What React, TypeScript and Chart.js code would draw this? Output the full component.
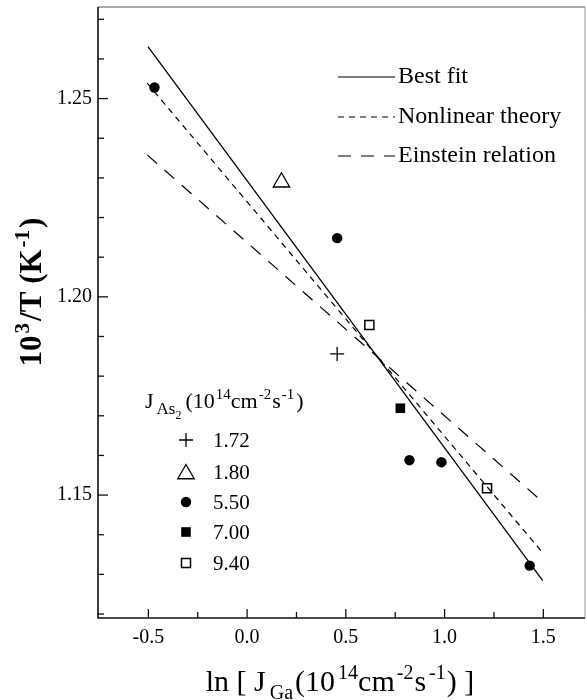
import React, { useEffect, useRef } from 'react';
import { Chart, registerables } from 'chart.js';

Chart.register(...registerables);

// ---- axis ranges and ticks ----
const X_RANGE = [-0.755, 1.711];
const Y_RANGE = [1.119, 1.2731];
const X_TICKS = [-0.5, -0.25, 0, 0.25, 0.5, 0.75, 1.0, 1.25, 1.5];
const Y_TICKS = [1.12, 1.13, 1.14, 1.15, 1.16, 1.17, 1.18, 1.19, 1.2, 1.21, 1.22, 1.23, 1.24, 1.25, 1.26, 1.27];
const X_MAJOR = [-0.5, 0, 0.5, 1.0, 1.5];
const Y_MAJOR = [1.15, 1.2, 1.25];

// ---- data: J_As2 series ----
const J_AS2_LABELS = ['1.72', '1.80', '5.50', '7.00', '9.40'];
const S172_X = [0.456];
const S172_Y = [1.1856];
const S180_X = [0.174];
const S180_Y = [1.2289];
const S550_X = [-0.469, 0.456, 0.822, 0.984, 1.431];
const S550_Y = [1.2528, 1.2148, 1.1588, 1.1583, 1.1322];
const S700_X = [0.776];
const S700_Y = [1.1719];
const S940_X = [0.619, 1.215];
const S940_Y = [1.1929, 1.1517];

// ---- fitted / theory lines ----
const LINE_LABELS = ['Best fit', 'Nonlinear theory', 'Einstein relation'];
const BEST_FIT_X = [-0.502, 1.497];
const BEST_FIT_Y = [1.2631, 1.1284];
const NONLIN_X = [-0.506, 1.489];
const NONLIN_Y = [1.2539, 1.1359];
const EINSTEIN_X = [-0.506, 1.489];
const EINSTEIN_Y = [1.2358, 1.1486];

const FONT = "'Liberation Serif', 'Times New Roman', serif";
const DASH_NONLIN = [6, 5];
const DASH_EINSTEIN = [13, 10];

const pts = (xs: number[], ys: number[]) => xs.map((x, i) => ({ x, y: ys[i] }));
const isMult = (v: number, m: number) => Math.abs(v / m - Math.round(v / m)) < 1e-6;

type Seg = { t: string; size: number; dy: number; gap?: number };

function richWidth(ctx: CanvasRenderingContext2D, segs: Seg[], bold: boolean) {
  let w = 0;
  for (const s of segs) {
    ctx.font = `${bold ? 'bold ' : ''}${s.size}px ${FONT}`;
    w += (s.gap || 0) + ctx.measureText(s.t).width;
  }
  return w;
}

function drawRich(ctx: CanvasRenderingContext2D, segs: Seg[], x: number, y: number, bold: boolean) {
  let cx = x;
  ctx.textAlign = 'left';
  ctx.textBaseline = 'alphabetic';
  for (const s of segs) {
    cx += s.gap || 0;
    ctx.font = `${bold ? 'bold ' : ''}${s.size}px ${FONT}`;
    ctx.fillText(s.t, cx, y + s.dy);
    cx += ctx.measureText(s.t).width;
  }
}

function drawMarker(ctx: CanvasRenderingContext2D, kind: string, x: number, y: number) {
  ctx.save();
  ctx.strokeStyle = '#000';
  ctx.fillStyle = '#000';
  ctx.lineWidth = 1.3;
  ctx.beginPath();
  if (kind === 'plus') {
    ctx.moveTo(x - 7, y); ctx.lineTo(x + 7, y);
    ctx.moveTo(x, y - 7); ctx.lineTo(x, y + 7);
    ctx.stroke();
  } else if (kind === 'tri') {
    const r = 9.5;
    ctx.moveTo(x, y - r);
    ctx.lineTo(x + r * Math.sin(2 * Math.PI / 3), y + r / 2);
    ctx.lineTo(x - r * Math.sin(2 * Math.PI / 3), y + r / 2);
    ctx.closePath();
    ctx.stroke();
  } else if (kind === 'circle') {
    ctx.arc(x, y, 5.2, 0, Math.PI * 2);
    ctx.fill();
  } else if (kind === 'fsq') {
    ctx.rect(x - 4.8, y - 4.8, 9.6, 9.6);
    ctx.fill();
  } else if (kind === 'osq') {
    ctx.lineWidth = 1.5;
    ctx.rect(x - 4.5, y - 4.5, 9, 9);
    ctx.stroke();
  }
  ctx.restore();
}

const decorPlugin = {
  id: 'decor',
  afterDraw(chart: any) {
    const ctx: CanvasRenderingContext2D = chart.ctx;
    const { left, right, top, bottom } = chart.chartArea;
    const xs = chart.scales.x;
    const ys = chart.scales.y;
    ctx.save();
    // frame
    ctx.lineWidth = 1;
    ctx.strokeStyle = '#555';
    ctx.beginPath(); ctx.moveTo(left, top); ctx.lineTo(right, top); ctx.stroke();
    ctx.strokeStyle = '#999';
    ctx.beginPath(); ctx.moveTo(right, top); ctx.lineTo(right, bottom); ctx.stroke();
    ctx.strokeStyle = '#111';
    ctx.lineWidth = 1.6;
    ctx.beginPath(); ctx.moveTo(left, top); ctx.lineTo(left, bottom); ctx.lineTo(right, bottom); ctx.stroke();

    // inward tick marks
    ctx.lineWidth = 1.3;
    ctx.strokeStyle = '#111';
    for (const v of X_TICKS) {
      const px = xs.getPixelForValue(v);
      const len = X_MAJOR.some((m) => Math.abs(m - v) < 1e-9) ? 9 : 6;
      ctx.beginPath(); ctx.moveTo(px, bottom); ctx.lineTo(px, bottom - len); ctx.stroke();
    }
    for (const v of Y_TICKS) {
      const py = ys.getPixelForValue(v);
      const len = Y_MAJOR.some((m) => Math.abs(m - v) < 1e-9) ? 10 : 6;
      ctx.beginPath(); ctx.moveTo(left, py); ctx.lineTo(left + len, py); ctx.stroke();
    }

    ctx.fillStyle = '#000';
    // line legend
    const lineDashes = [[], DASH_NONLIN, DASH_EINSTEIN];
    const lineYs = [77, 117, 156];
    LINE_LABELS.forEach((lab, i) => {
      ctx.save();
      ctx.setLineDash(lineDashes[i]);
      ctx.lineWidth = 1.2;
      ctx.strokeStyle = '#000';
      ctx.beginPath(); ctx.moveTo(338, lineYs[i]); ctx.lineTo(395, lineYs[i]); ctx.stroke();
      ctx.restore();
      ctx.font = `24px ${FONT}`;
      ctx.textAlign = 'left';
      ctx.textBaseline = 'alphabetic';
      ctx.fillText(lab, 398, lineYs[i] + 6);
    });

    // marker legend header: J_As2 (10^14 cm^-2 s^-1)
    const header: Seg[] = [
      { t: 'J', size: 22, dy: 0 },
      { t: 'As', size: 17, dy: 6, gap: 3 },
      { t: '2', size: 12, dy: 11 },
      { t: '(10', size: 22, dy: 0, gap: 4 },
      { t: '14', size: 15, dy: -9, gap: 1 },
      { t: 'cm', size: 22, dy: 0 },
      { t: '-2', size: 15, dy: -9, gap: 1 },
      { t: 's', size: 22, dy: 0, gap: 1 },
      { t: '-1', size: 15, dy: -9, gap: 1 },
      { t: ')', size: 22, dy: 0, gap: 2 },
    ];
    drawRich(ctx, header, 145, 408, false);

    const kinds = ['plus', 'tri', 'circle', 'fsq', 'osq'];
    const rowYs = [440, 472, 502, 532, 563];
    J_AS2_LABELS.forEach((lab, i) => {
      drawMarker(ctx, kinds[i], 186, rowYs[i] + (kinds[i] === 'tri' ? 2 : 0));
      ctx.fillStyle = '#000';
      ctx.font = `21px ${FONT}`;
      ctx.textAlign = 'left';
      ctx.textBaseline = 'middle';
      ctx.fillText(lab, 213, rowYs[i] + 1);
    });

    // x-axis title
    const xt: Seg[] = [
      { t: 'ln [ J', size: 30, dy: 0 },
      { t: 'Ga', size: 20, dy: 8, gap: 4 },
      { t: '(10', size: 30, dy: 0, gap: 2 },
      { t: '14', size: 20, dy: -12, gap: 3 },
      { t: 'cm', size: 30, dy: 0 },
      { t: '-2', size: 20, dy: -12, gap: 2 },
      { t: 's', size: 30, dy: 0, gap: 1 },
      { t: '-1', size: 20, dy: -12, gap: 3 },
      { t: ') ]', size: 30, dy: 0, gap: 1 },
    ];
    const xw = richWidth(ctx, xt, false);
    ctx.fillStyle = '#000';
    drawRich(ctx, xt, 340 - xw / 2, 691, false);

    // y-axis title (rotated)
    const yt: Seg[] = [
      { t: '10', size: 31, dy: 0 },
      { t: '3', size: 21, dy: -12, gap: 2 },
      { t: '/T (K', size: 31, dy: 0, gap: 2 },
      { t: '-1', size: 21, dy: -12, gap: 2 },
      { t: ')', size: 31, dy: 0, gap: 2 },
    ];
    const yw = richWidth(ctx, yt, true);
    ctx.save();
    ctx.translate(41, 292);
    ctx.rotate(-Math.PI / 2);
    drawRich(ctx, yt, -yw / 2, 0, true);
    ctx.restore();

    ctx.restore();
  },
};

const zeroPad = (scale: any) => {
  scale.paddingLeft = 0;
  scale.paddingRight = 0;
  scale.paddingTop = 0;
  scale.paddingBottom = 0;
};

export default function App() {
  const ref = useRef<HTMLCanvasElement | null>(null);

  useEffect(() => {
    if (!ref.current) return;
    const black = '#000';
    const chart = new Chart(ref.current, {
      type: 'scatter',
      data: {
        datasets: [
          { label: '1.72', data: pts(S172_X, S172_Y), pointStyle: 'cross', pointRadius: 7, borderColor: black, borderWidth: 1.3, backgroundColor: black },
          { label: '1.80', data: pts(S180_X, S180_Y), pointStyle: 'triangle', pointRadius: 9.5, borderColor: black, borderWidth: 1.3, backgroundColor: 'rgba(0,0,0,0)' },
          { label: '5.50', data: pts(S550_X, S550_Y), pointStyle: 'circle', pointRadius: 5.2, borderColor: black, borderWidth: 0, backgroundColor: black },
          { label: '7.00', data: pts(S700_X, S700_Y), pointStyle: 'rect', pointRadius: 6.8, borderColor: black, borderWidth: 0, backgroundColor: black },
          { label: '9.40', data: pts(S940_X, S940_Y), pointStyle: 'rect', pointRadius: 6.4, borderColor: black, borderWidth: 1.5, backgroundColor: 'rgba(0,0,0,0)' },
          { label: LINE_LABELS[0], data: pts(BEST_FIT_X, BEST_FIT_Y), showLine: true, pointRadius: 0, borderColor: black, borderWidth: 1.3 },
          { label: LINE_LABELS[1], data: pts(NONLIN_X, NONLIN_Y), showLine: true, pointRadius: 0, borderColor: black, borderWidth: 1.2, borderDash: DASH_NONLIN },
          { label: LINE_LABELS[2], data: pts(EINSTEIN_X, EINSTEIN_Y), showLine: true, pointRadius: 0, borderColor: black, borderWidth: 1.2, borderDash: DASH_EINSTEIN },
        ],
      } as any,
      options: {
        animation: false,
        responsive: false,
        layout: { autoPadding: false, padding: { top: 7, right: 2, left: 0, bottom: 0 } },
        plugins: { legend: { display: false }, tooltip: { enabled: false } },
        scales: {
          x: {
            type: 'linear',
            min: X_RANGE[0],
            max: X_RANGE[1],
            grid: { display: false, drawTicks: false },
            border: { display: false },
            afterBuildTicks: (scale: any) => { scale.ticks = X_TICKS.map((v) => ({ value: v })); },
            afterFit: (scale: any) => { scale.height = 82; zeroPad(scale); },
            ticks: {
              autoSkip: false,
              maxRotation: 0,
              padding: 8,
              color: '#000',
              font: { family: FONT, size: 20 },
              callback: (v: any) => (isMult(Number(v), 0.5) ? Number(v).toFixed(1) : ''),
            },
          },
          y: {
            type: 'linear',
            min: Y_RANGE[0],
            max: Y_RANGE[1],
            grid: { display: false, drawTicks: false },
            border: { display: false },
            afterBuildTicks: (scale: any) => { scale.ticks = Y_TICKS.map((v) => ({ value: v })); },
            afterFit: (scale: any) => { scale.width = 98; zeroPad(scale); },
            ticks: {
              autoSkip: false,
              padding: 6,
              color: '#000',
              font: { family: FONT, size: 20 },
              callback: (v: any) => (isMult(Number(v), 0.05) ? Number(v).toFixed(2) : ''),
            },
          },
        },
      } as any,
      plugins: [decorPlugin],
    });
    return () => chart.destroy();
  }, []);

  return (
    <div style={{ position: 'fixed', left: 0, top: 0, width: 587, height: 700, background: '#fff' }}>
      <canvas ref={ref} width={587} height={700} style={{ width: 587, height: 700, display: 'block' }} />
    </div>
  );
}
